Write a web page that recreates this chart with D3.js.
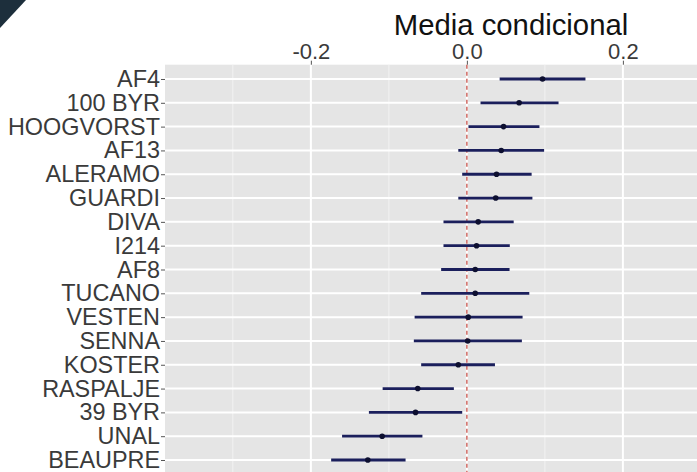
<!DOCTYPE html>
<html>
<head>
<meta charset="utf-8">
<script src="https://cdn.jsdelivr.net/npm/d3@7"></script>
<style>
  body { margin: 0; background: #fff; }
  svg { display: block; font-family: "Liberation Sans", Arial, sans-serif; }
</style>
</head>
<body>
<svg width="697" height="472"></svg>
<script>
// categories, top to bottom
var cultivars = ["AF4", "100 BYR", "HOOGVORST", "AF13", "ALERAMO", "GUARDI", "DIVA", "I214", "AF8",
                 "TUCANO", "VESTEN", "SENNA", "KOSTER", "RASPALJE", "39 BYR", "UNAL", "BEAUPRE"];
var means = [0.097, 0.067, 0.047, 0.044, 0.038, 0.037, 0.0145, 0.0124, 0.0107,
             0.0107, 0.0017, 0.001, -0.011, -0.063, -0.0658, -0.1086, -0.127];
var lower = [0.042, 0.0175, 0.002, -0.011, -0.006, -0.011, -0.030, -0.030, -0.033,
             -0.0586, -0.067, -0.068, -0.0586, -0.108, -0.1256, -0.160, -0.174];
var upper = [0.152, 0.1175, 0.093, 0.099, 0.083, 0.084, 0.060, 0.055, 0.0547,
             0.080, 0.0714, 0.0705, 0.036, -0.0167, -0.006, -0.057, -0.0786];
var xTicks = [-0.2, 0.0, 0.2];
var xTickLabels = ["-0.2", "0.0", "0.2"];
var xMinor = [-0.3, -0.1, 0.1];

var data = cultivars.map(function(c, i) {
  return {name: c, mean: means[i], lo: lower[i], hi: upper[i]};
});

var svg = d3.select("svg"),
    panel = {left: 165, right: 697, top: 64.7, bottom: 474.3};

var x = d3.scaleLinear().domain([-0.387, 0.295]).range([panel.left, panel.right]);
var y = d3.scalePoint().domain(cultivars).range([panel.top, panel.bottom]).padding(0.6);

// dark corner of the slide
svg.append("path")
    .attr("d", "M0,0 L26,0 L0,28 Z")
    .attr("fill", "#1d2f3c");

// panel background
svg.append("rect")
    .attr("x", panel.left)
    .attr("y", panel.top)
    .attr("width", panel.right - panel.left)
    .attr("height", panel.bottom - panel.top)
    .attr("fill", "#e5e5e5");

// minor gridlines
svg.selectAll(".minor")
  .data(xMinor)
  .enter().append("line")
    .attr("x1", function(d) { return x(d); })
    .attr("x2", function(d) { return x(d); })
    .attr("y1", panel.top)
    .attr("y2", panel.bottom)
    .attr("stroke", "#f2f2f2")
    .attr("stroke-width", 1);

// major gridlines
svg.selectAll(".vgrid")
  .data(xTicks)
  .enter().append("line")
    .attr("x1", function(d) { return x(d); })
    .attr("x2", function(d) { return x(d); })
    .attr("y1", panel.top)
    .attr("y2", panel.bottom)
    .attr("stroke", "#fff")
    .attr("stroke-width", 2);

svg.selectAll(".hgrid")
  .data(cultivars)
  .enter().append("line")
    .attr("x1", panel.left)
    .attr("x2", panel.right)
    .attr("y1", function(d) { return y(d); })
    .attr("y2", function(d) { return y(d); })
    .attr("stroke", "#fff")
    .attr("stroke-width", 2);

// reference line at zero
svg.append("line")
    .attr("x1", x(0))
    .attr("x2", x(0))
    .attr("y1", panel.top)
    .attr("y2", panel.bottom)
    .attr("stroke", "#c8524a")
    .attr("stroke-width", 1.3)
    .attr("stroke-dasharray", "4,3");

// intervals and means
var row = svg.selectAll(".row")
  .data(data)
  .enter().append("g")
    .attr("class", "row");

row.append("line")
    .attr("x1", function(d) { return x(d.lo); })
    .attr("x2", function(d) { return x(d.hi); })
    .attr("y1", function(d) { return y(d.name); })
    .attr("y2", function(d) { return y(d.name); })
    .attr("stroke", "#1b1f5c")
    .attr("stroke-width", 2.8);

row.append("circle")
    .attr("cx", function(d) { return x(d.mean); })
    .attr("cy", function(d) { return y(d.name); })
    .attr("r", 2.8)
    .attr("fill", "#0d0f30");

// top axis
var xAxis = svg.append("g")
    .attr("transform", "translate(0," + panel.top + ")")
    .call(d3.axisTop(x).tickValues(xTicks)
      .tickFormat(function(d, i) { return xTickLabels[i]; })
      .tickSize(4).tickPadding(1.5));
xAxis.select(".domain").remove();
xAxis.selectAll(".tick line").attr("stroke", "#555");
xAxis.selectAll("text")
    .attr("fill", "#3a3a3a")
    .style("font-size", "22px");

// left axis
var yAxis = svg.append("g")
    .attr("transform", "translate(" + panel.left + ",0)")
    .call(d3.axisLeft(y).tickSize(4).tickPadding(1));
yAxis.select(".domain").remove();
yAxis.selectAll(".tick line").attr("stroke", "#555");
yAxis.selectAll("text")
    .attr("fill", "#3a3a3a")
    .style("font-size", "23.4px");

// title
svg.append("text")
    .attr("x", 511)
    .attr("y", 35)
    .attr("text-anchor", "middle")
    .attr("fill", "#111")
    .style("font-size", "29.3px")
    .text("Media condicional");
</script>
</body>
</html>
